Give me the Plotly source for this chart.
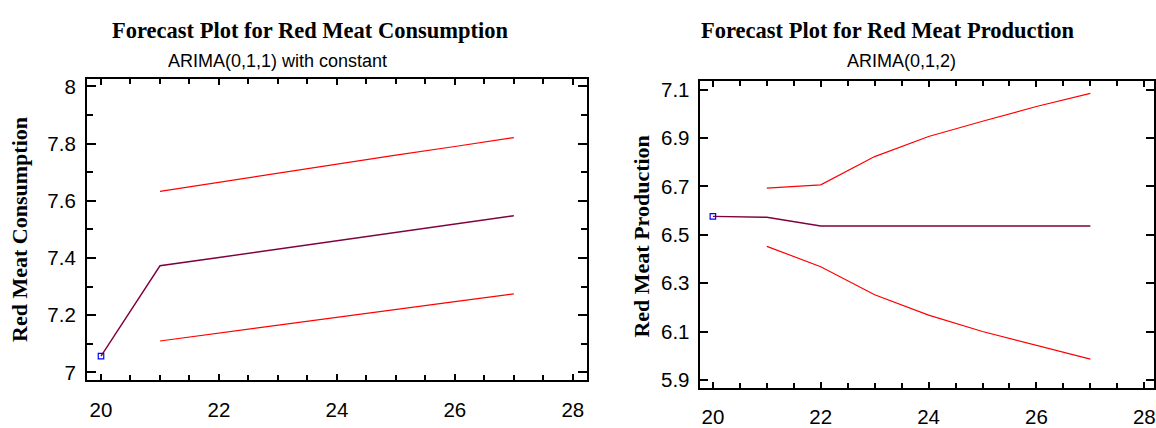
import plotly.graph_objects as go

W, H = 1156, 428

# ---- Data: Red Meat Consumption, ARIMA(0,1,1) with constant ----
cons_obs_x = [20]
cons_obs_y = [7.057]
cons_fc_x = [20, 21, 22, 23, 24, 25, 26, 27]
cons_fc_y = [7.057, 7.373, 7.402, 7.431, 7.460, 7.490, 7.519, 7.548]
cons_lim_x = [21, 22, 23, 24, 25, 26, 27]
cons_upper = [7.633, 7.665, 7.697, 7.728, 7.760, 7.790, 7.821]
cons_lower = [7.110, 7.138, 7.165, 7.192, 7.220, 7.248, 7.275]

# ---- Data: Red Meat Production, ARIMA(0,1,2) ----
prod_obs_x = [20]
prod_obs_y = [6.576]
prod_fc_x = [20, 21, 22, 23, 24, 25, 26, 27]
prod_fc_y = [6.576, 6.572, 6.536, 6.536, 6.536, 6.536, 6.536, 6.536]
prod_lim_x = [21, 22, 23, 24, 25, 26, 27]
prod_upper = [6.693, 6.706, 6.823, 6.906, 6.969, 7.030, 7.084]
prod_lower = [6.452, 6.368, 6.252, 6.168, 6.100, 6.043, 5.986]

x_ticks = [20, 22, 24, 26, 28]
cons_y_ticks = [7.0, 7.2, 7.4, 7.6, 7.8, 8.0]
cons_y_labels = ["7", "7.2", "7.4", "7.6", "7.8", "8"]
prod_y_ticks = [5.9, 6.1, 6.3, 6.5, 6.7, 6.9, 7.1]

RED = "#FF0000"
FC = "#800040"
BLUE = "#0000FF"

fig = go.Figure()

def add_panel(xa, ya, obs_x, obs_y, fc_x, fc_y, lim_x, up, lo):
    fig.add_trace(go.Scatter(x=lim_x, y=up, mode="lines", line=dict(color=RED, width=1.2),
                             xaxis=xa, yaxis=ya, showlegend=False))
    fig.add_trace(go.Scatter(x=lim_x, y=lo, mode="lines", line=dict(color=RED, width=1.2),
                             xaxis=xa, yaxis=ya, showlegend=False))
    fig.add_trace(go.Scatter(x=fc_x, y=fc_y, mode="lines", line=dict(color=FC, width=1.4),
                             xaxis=xa, yaxis=ya, showlegend=False))
    fig.add_trace(go.Scatter(x=obs_x, y=obs_y, mode="markers",
                             marker=dict(symbol="square-open", color=BLUE, size=5.5,
                                         line=dict(width=1.2, color=BLUE)),
                             xaxis=xa, yaxis=ya, showlegend=False))

add_panel("x", "y", cons_obs_x, cons_obs_y, cons_fc_x, cons_fc_y, cons_lim_x, cons_upper, cons_lower)
add_panel("x2", "y2", prod_obs_x, prod_obs_y, prod_fc_x, prod_fc_y, prod_lim_x, prod_upper, prod_lower)

tickfont = dict(family="Liberation Sans, Arial, sans-serif", size=20.5, color="black")

def px_x(p):
    return p / W

def px_y(p):
    return 1 - p / H

common_axis = dict(showline=True, linecolor="black", linewidth=1.8, mirror="ticks",
                   ticks="inside", tickcolor="black", tickwidth=1.5, showgrid=False,
                   zeroline=False, tickfont=tickfont)

fig.update_layout(
    width=W, height=H,
    margin=dict(l=0, r=0, t=0, b=0),
    paper_bgcolor="white", plot_bgcolor="white",
    xaxis=dict(domain=[px_x(87), px_x(588)], range=[19.76, 28.24],
               tickmode="array", tickvals=x_ticks, ticklen=6, ticklabelstandoff=10,
               minor=dict(dtick=0.5, tick0=20, ticks="inside", ticklen=5, tickwidth=1.5, tickcolor="black"),
               anchor="y", **common_axis),
    yaxis=dict(domain=[px_y(388), px_y(77)], range=[6.973, 8.027],
               tickmode="array", tickvals=cons_y_ticks, ticktext=cons_y_labels, ticklen=9,
               ticklabelstandoff=5,
               minor=dict(dtick=0.1, tick0=7, ticks="inside", ticklen=6, tickwidth=1.5, tickcolor="black"),
               anchor="x", **common_axis),
    xaxis2=dict(domain=[px_x(701.7), 1.0], range=[19.77, 28.18],
                tickmode="array", tickvals=x_ticks, ticklen=6, ticklabelstandoff=10,
                minor=dict(dtick=0.5, tick0=20, ticks="inside", ticklen=5, tickwidth=1.5, tickcolor="black"),
                anchor="y2", **common_axis),
    yaxis2=dict(domain=[px_y(395.7), px_y(79)], range=[5.868, 7.137],
                tickmode="array", tickvals=prod_y_ticks, ticklen=8, ticklabelstandoff=5,
                anchor="x2", **common_axis),
)

serif_bold = dict(family="Liberation Serif, Times New Roman, serif", size=22.5, color="black")
sans = dict(family="Liberation Sans, Arial, sans-serif", size=18, color="black")
ytitle_font = dict(family="Liberation Serif, Times New Roman, serif", size=22, color="black")

annotations = [
    dict(text="<b>Forecast Plot for Red Meat Consumption</b>", x=px_x(311), y=px_y(27), font=serif_bold),
    dict(text="ARIMA(0,1,1) with constant", x=px_x(278), y=px_y(59), font=sans),
    dict(text="<b>Forecast Plot for Red Meat Production</b>", x=px_x(890), y=px_y(27), font=serif_bold),
    dict(text="ARIMA(0,1,2)", x=px_x(903), y=px_y(59), font=sans),
    dict(text="<b>Red Meat Consumption</b>", x=px_x(20), y=px_y(232), textangle=-90, font=ytitle_font),
    dict(text="<b>Red Meat Production</b>", x=px_x(643), y=px_y(240), textangle=-90, font=ytitle_font),
]
for a in annotations:
    fig.add_annotation(xref="paper", yref="paper", showarrow=False, xanchor="center",
                       yanchor="middle", **a)

fig.write_html("out.html", config={"displayModeBar": False},
               post_script="document.body.style.margin='0';document.body.style.overflow='hidden';")
